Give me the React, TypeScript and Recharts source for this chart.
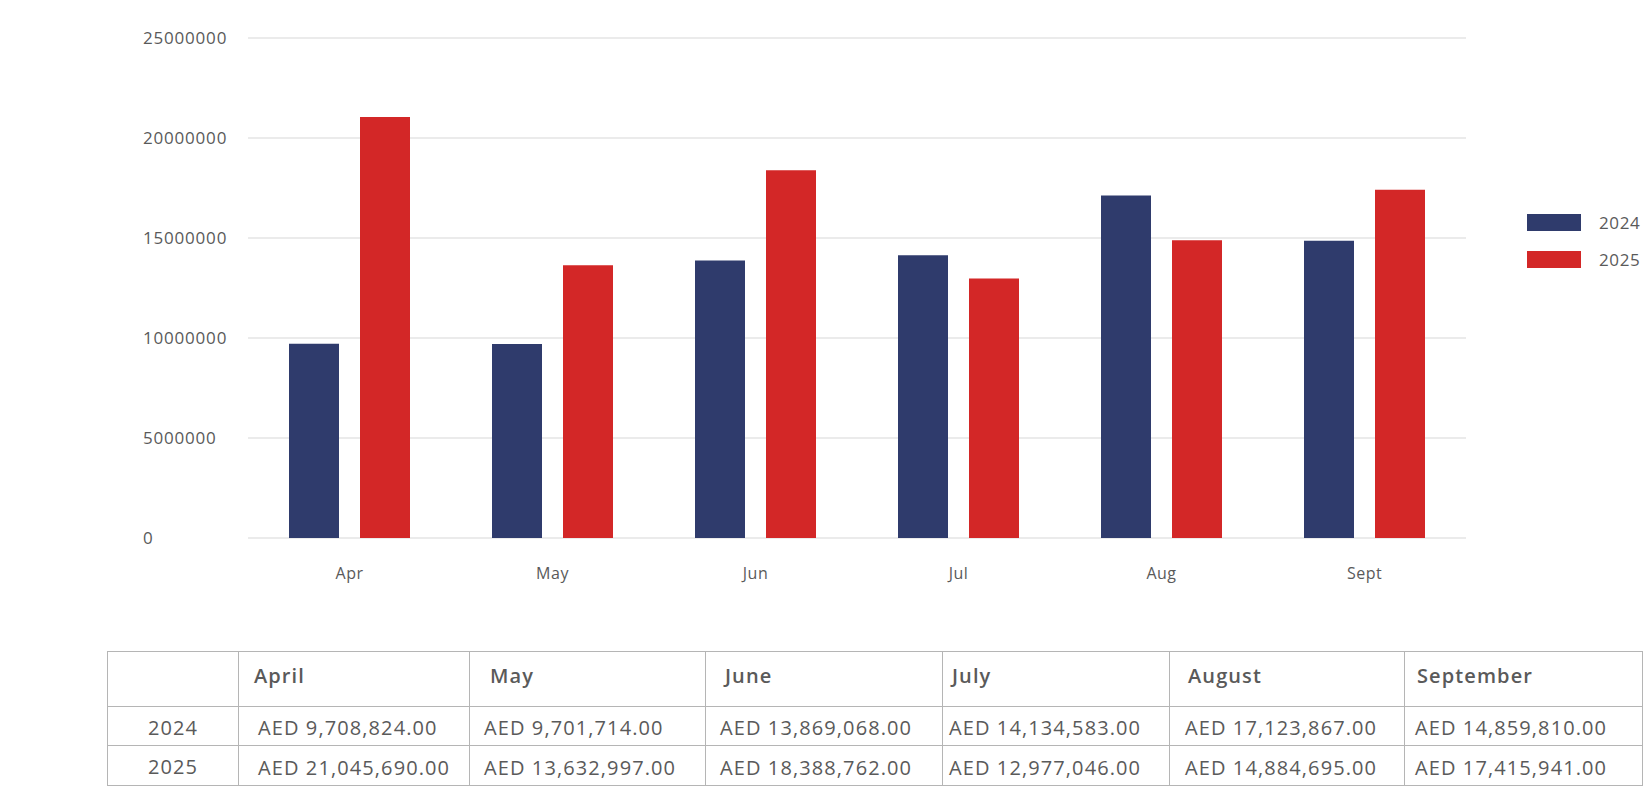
import React from "react";
import { BarChart, Bar, XAxis, YAxis, CartesianGrid } from "recharts";

const months = ["Apr", "May", "Jun", "Jul", "Aug", "Sept"];
const fullMonths = ["April", "May", "June", "July", "August", "September"];
const sales2024 = [9708824, 9701714, 13869068, 14134583, 17123867, 14859810];
const sales2025 = [21045690, 13632997, 18388762, 12977046, 14884695, 17415941];
const yTicks = [0, 5000000, 10000000, 15000000, 20000000, 25000000];

const BLUE = "#2f3b6c";
const RED = "#d32727";
const TEXT = "#5a5a5a";
const FONT = "'Open Sans', sans-serif";

const chartData = months.map((m, i) => ({
  month: m,
  y2024: sales2024[i],
  y2025: sales2025[i],
}));

const series = [
  { key: "y2024", name: "2024", color: BLUE },
  { key: "y2025", name: "2025", color: RED },
];

// table layout
const colWidths = [131, 231, 236, 237, 227, 235, 238];
const headPad = [0, 15, 20, 19, 9, 18, 12];
const cellPad = [0, 19, 14, 14, 6, 15, 10];

const fmt = (v: number) =>
  "AED " + v.toLocaleString("en-US", { minimumFractionDigits: 2, maximumFractionDigits: 2 });

const PLOT_BOTTOM = 538;

const YTick = (props: any) => (
  <text x={143} y={props.y} dy="0.35em" textAnchor="start" fill={TEXT} fontSize={17} letterSpacing={0.8} fontFamily={FONT}>
    {props.payload.value}
  </text>
);

const XTick = (props: any) => (
  <text x={props.x} y={PLOT_BOTTOM + 35} dy="0.35em" textAnchor="middle" fill={TEXT} fontSize={16} letterSpacing={0.5} fontFamily={FONT}>
    {props.payload.value}
  </text>
);

const border = "1px solid #b5b5b5";

export default function App() {
  return (
    <div style={{ position: "absolute", left: 0, top: 0, width: 1646, height: 787, background: "#fff" }}>
      <BarChart
        width={1646}
        height={600}
        data={chartData}
        margin={{ top: 38, right: 180, bottom: 12, left: 0 }}
        barSize={50}
        barGap={21}
      >
        <CartesianGrid vertical={false} stroke="#ebebeb" strokeWidth={2} />
        <XAxis dataKey="month" axisLine={false} tickLine={false} height={50} tick={<XTick />} />
        <YAxis
          width={248}
          domain={[0, 25000000]}
          ticks={yTicks}
          axisLine={false}
          tickLine={false}
          tick={<YTick />}
        />
        {series.map((s) => (
          <Bar key={s.key} dataKey={s.key} name={s.name} fill={s.color} isAnimationActive={false} />
        ))}
      </BarChart>

      {/* legend */}
      <div style={{ position: "absolute", left: 1527, top: 204, fontFamily: FONT }}>
        {series.map((s) => (
          <div key={s.key} style={{ display: "flex", alignItems: "center", height: 37 }}>
            <div style={{ width: 54, height: 17, background: s.color }} />
            <span style={{ marginLeft: 18, fontSize: 17, letterSpacing: 0.6, color: TEXT }}>{s.name}</span>
          </div>
        ))}
      </div>

      <table
        style={{
          position: "absolute",
          left: 107,
          top: 651,
          borderCollapse: "collapse",
          tableLayout: "fixed",
          fontFamily: FONT,
          color: TEXT,
        }}
      >
        <colgroup>
          {colWidths.map((w, i) => (
            <col key={i} style={{ width: w }} />
          ))}
        </colgroup>
        <tbody>
          <tr style={{ height: 55 }}>
            <td style={{ border }} />
            {fullMonths.map((m, i) => (
              <td
                key={m}
                style={{ border, fontWeight: 600, fontSize: 20, letterSpacing: 1.1, padding: 0, paddingBottom: 8, textIndent: headPad[i + 1] }}
              >
                {m}
              </td>
            ))}
          </tr>
          {[
            { label: "2024", values: sales2024 },
            { label: "2025", values: sales2025 },
          ].map((row, r) => (
            <tr key={row.label} style={{ height: r === 0 ? 39 : 40 }}>
              <td style={{ border, textAlign: "center", fontSize: 20, letterSpacing: 1.1, padding: 0, paddingTop: 2 }}>{row.label}</td>
              {row.values.map((v, i) => (
                <td
                  key={i}
                  style={{ border, fontSize: 20, letterSpacing: 1.1, padding: 0, paddingTop: 3, textIndent: cellPad[i + 1], whiteSpace: "nowrap" }}
                >
                  {fmt(v)}
                </td>
              ))}
            </tr>
          ))}
        </tbody>
      </table>
    </div>
  );
}
